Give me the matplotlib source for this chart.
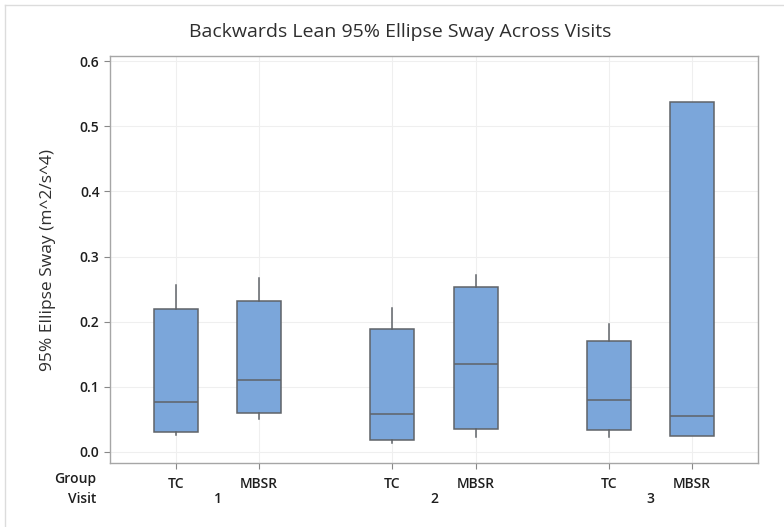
import matplotlib.pyplot as plt
import matplotlib.lines as mlines
from matplotlib.transforms import blended_transform_factory

plt.rcParams['font.family'] = ['Open Sans', 'DejaVu Sans']

# Box summary values (order: V1 TC, V1 MBSR, V2 TC, V2 MBSR, V3 TC, V3 MBSR)
groups = ['TC', 'MBSR', 'TC', 'MBSR', 'TC', 'MBSR']
visits = ['1', '2', '3']
whislo = [0.026, 0.050, 0.014, 0.023, 0.023, 0.025]
q1 = [0.031, 0.060, 0.018, 0.035, 0.034, 0.025]
med = [0.076, 0.111, 0.058, 0.135, 0.080, 0.055]
q3 = [0.219, 0.232, 0.189, 0.253, 0.170, 0.538]
whishi = [0.257, 0.267, 0.221, 0.271, 0.196, 0.538]

positions = [0, 1, 2.6, 3.6, 5.2, 6.2]

stats = []
for i in range(len(groups)):
    stats.append({'whislo': whislo[i], 'q1': q1[i], 'med': med[i],
                  'q3': q3[i], 'whishi': whishi[i], 'fliers': []})

fig = plt.figure(figsize=(7.84, 5.27), dpi=100)
ax = fig.add_axes([0.1403, 0.1214, 0.8265, 0.7723])

edge = '#5f6368'
ax.bxp(stats, positions=positions, widths=0.53, patch_artist=True, showcaps=False,
       boxprops=dict(facecolor='#7ba6da', edgecolor=edge, linewidth=1.1),
       medianprops=dict(color=edge, linewidth=1.1),
       whiskerprops=dict(color=edge, linewidth=1.1), zorder=3)

ax.set_xlim(-0.79, 6.99)
ax.set_ylim(-0.017, 0.608)
ax.set_yticks([0.0, 0.1, 0.2, 0.3, 0.4, 0.5, 0.6])
ax.set_yticklabels(['0.0', '0.1', '0.2', '0.3', '0.4', '0.5', '0.6'],
                   fontsize=10, fontweight='semibold', color='#1e1e1e')
ax.set_xticks(positions)
ax.set_xticklabels(groups, fontsize=10, fontweight='semibold', color='#1e1e1e')
ax.tick_params(axis='both', color='#888888', length=4)
ax.tick_params(axis='x', pad=6)
ax.grid(True, color='#efefef', linewidth=0.8, zorder=0)
ax.set_axisbelow(True)
for s in ax.spines.values():
    s.set_color('#a6a6a6')
    s.set_linewidth(1.0)

ax.set_ylabel('95% Ellipse Sway (m^2/s^4)', fontsize=12.5, color='#2e2e2e', labelpad=17)

# second row of category labels (Visit)
trans = blended_transform_factory(ax.transData, fig.transFigure)
for k, v in enumerate(visits):
    xc = (positions[2 * k] + positions[2 * k + 1]) / 2
    ax.text(xc, 1 - 499 / 527, v, transform=trans, ha='center', va='center',
            fontsize=10, fontweight='semibold', color='#1e1e1e')

fig.text(96 / 784, 1 - 479 / 527, 'Group', ha='right', va='center',
         fontsize=10, fontweight='semibold', color='#1e1e1e')
fig.text(96 / 784, 1 - 499 / 527, 'Visit', ha='right', va='center',
         fontsize=10, fontweight='semibold', color='#1e1e1e')

fig.text(400 / 784, 1 - 32 / 527, 'Backwards Lean 95% Ellipse Sway Across Visits',
         ha='center', va='center', fontsize=14, color='#2e2e2e')

# outer border of the original graph window (cropped on right and bottom)
fig.add_artist(mlines.Line2D([5 / 784, 5 / 784], [0, 1 - 5 / 527],
                             transform=fig.transFigure, color='#dcdcdc', linewidth=1))
fig.add_artist(mlines.Line2D([5 / 784, 1], [1 - 5 / 527, 1 - 5 / 527],
                             transform=fig.transFigure, color='#dcdcdc', linewidth=1))

fig.savefig('out.png', dpi=100)
